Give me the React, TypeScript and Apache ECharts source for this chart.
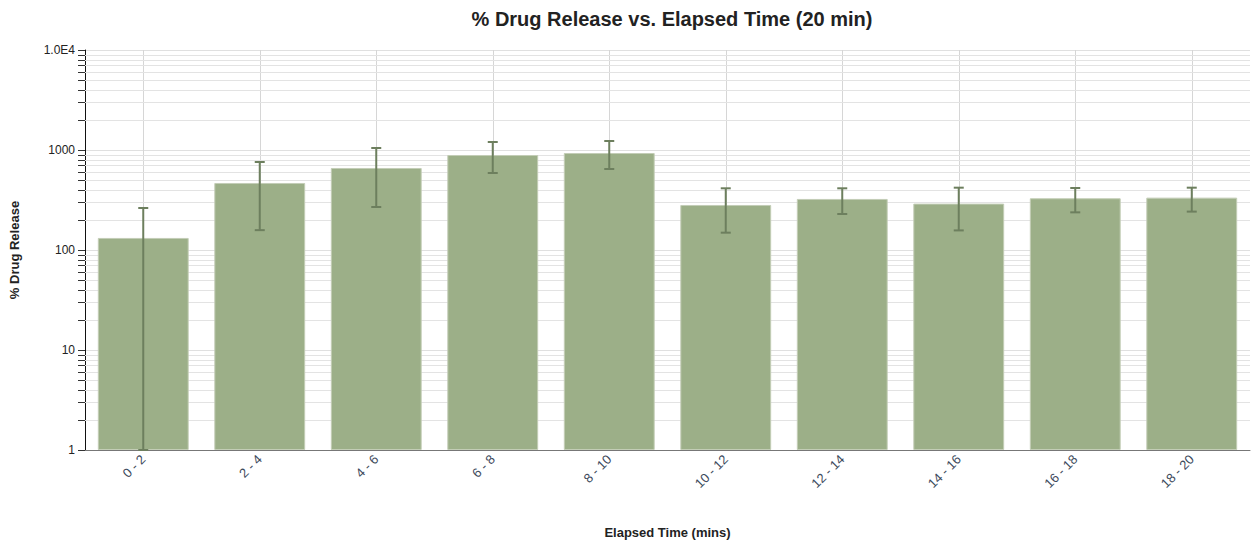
import React, { useEffect, useRef } from "react";
import * as echarts from "echarts";

const categories = ["0 - 2", "2 - 4", "4 - 6", "6 - 8", "8 - 10", "10 - 12", "12 - 14", "14 - 16", "16 - 18", "18 - 20"];
const releaseValues = [132, 468, 661, 891, 933, 282, 324, 291, 329, 334];
const errorLow = [1, 158, 269, 589, 646, 149, 229, 157, 238, 242];
const errorHigh = [263, 759, 1047, 1202, 1230, 414, 414, 420, 417, 420];
const minorTickValues: number[] = [];
[1, 10, 100, 1000].forEach((d) => {
  for (let k = 2; k <= 9; k++) minorTickValues.push(k * d);
});

const BAR_COLOR = "#9caf88";
const ERR_COLOR = "#6d7f5e";
const FONT = "'Liberation Sans', Arial, sans-serif";

export default function App() {
  const ref = useRef<HTMLDivElement>(null);
  useEffect(() => {
    if (!ref.current) return;
    const chart = echarts.init(ref.current, undefined, { renderer: "svg" });
    chart.setOption({
      animation: false,
      textStyle: { fontFamily: FONT },
      title: {
        text: "% Drug Release vs. Elapsed Time (20 min)",
        left: 667,
        textAlign: "center",
        top: 4,
        textStyle: { fontSize: 20, fontWeight: "bold", color: "#222", fontFamily: FONT },
      },
      grid: { left: 84, right: 6, top: 50, bottom: 94 },
      xAxis: {
        type: "category",
        data: categories,
        name: "Elapsed Time (mins)",
        nameLocation: "middle",
        nameGap: 76,
        nameTextStyle: { fontSize: 13, fontWeight: "bold", color: "#222", fontFamily: FONT },
        axisLine: { lineStyle: { color: "#777", width: 1 } },
        axisTick: { alignWithLabel: true, length: 5, lineStyle: { color: "#333" } },
        splitLine: { show: true, alignWithLabel: true, lineStyle: { color: "#d6d6d6" } } as any,
        axisLabel: { rotate: 45, fontSize: 13, color: "#3d4a5c", margin: 7, fontFamily: FONT },
      },
      yAxis: {
        type: "log",
        logBase: 10,
        min: 1,
        max: 10000,
        name: "% Drug Release",
        nameLocation: "middle",
        nameGap: 64,
        nameTextStyle: { fontSize: 13, fontWeight: "bold", color: "#222", fontFamily: FONT },
        axisLine: { show: true, lineStyle: { color: "#111", width: 1 } },
        axisTick: { show: true, length: 7, lineStyle: { color: "#333" } },
        splitLine: { show: true, lineStyle: { color: "#e0e0e0" } },
        axisLabel: {
          fontSize: 12,
          color: "#222",
          margin: 10,
          fontFamily: FONT,
          formatter: (v: number) => (v >= 10000 ? "1.0E4" : String(Math.round(v))),
        },
      },
      series: [
        {
          type: "custom",
          name: "minor",
          clip: false,
          z: 1,
          silent: true,
          data: minorTickValues.map((v) => [0, v]),
          encode: { x: 0, y: 1 },
          renderItem: (params: any, api: any) => {
            const y = Math.round(api.coord([0, api.value(1)])[1]) + 0.5;
            const cs = params.coordSys;
            return {
              type: "group",
              children: [
                {
                  type: "line",
                  shape: { x1: cs.x, y1: y, x2: cs.x + cs.width, y2: y },
                  style: { stroke: "#e3e3e3", lineWidth: 1 },
                },
                {
                  type: "line",
                  shape: { x1: cs.x - 7, y1: y, x2: cs.x, y2: y },
                  style: { stroke: "#333", lineWidth: 1 },
                },
              ],
            };
          },
        },
        {
          type: "bar",
          name: "% Drug Release",
          data: releaseValues,
          barWidth: "78%",
          z: 3,
          itemStyle: { color: BAR_COLOR, borderColor: "#c3cdb6", borderWidth: 1 },
        },
        {
          type: "custom",
          name: "error",
          z: 4,
          clip: false,
          data: categories.map((_, i) => [i, errorLow[i], errorHigh[i]]),
          encode: { x: 0, y: [1, 2] },
          renderItem: (params: any, api: any) => {
            const i = api.value(0);
            const p1 = api.coord([i, api.value(1)]);
            const p2 = api.coord([i, api.value(2)]);
            const x = p1[0];
            const hw = 5;
            const style = { stroke: ERR_COLOR, lineWidth: 2 };
            return {
              type: "group",
              children: [
                { type: "line", shape: { x1: x, y1: p1[1], x2: x, y2: p2[1] }, style },
                { type: "line", shape: { x1: x - hw, y1: p1[1], x2: x + hw, y2: p1[1] }, style },
                { type: "line", shape: { x1: x - hw, y1: p2[1], x2: x + hw, y2: p2[1] }, style },
              ],
            };
          },
        },
      ],
    });
    return () => chart.dispose();
  }, []);
  return <div ref={ref} style={{ width: 1256, height: 544, position: "absolute", left: 0, top: 0 }} />;
}
